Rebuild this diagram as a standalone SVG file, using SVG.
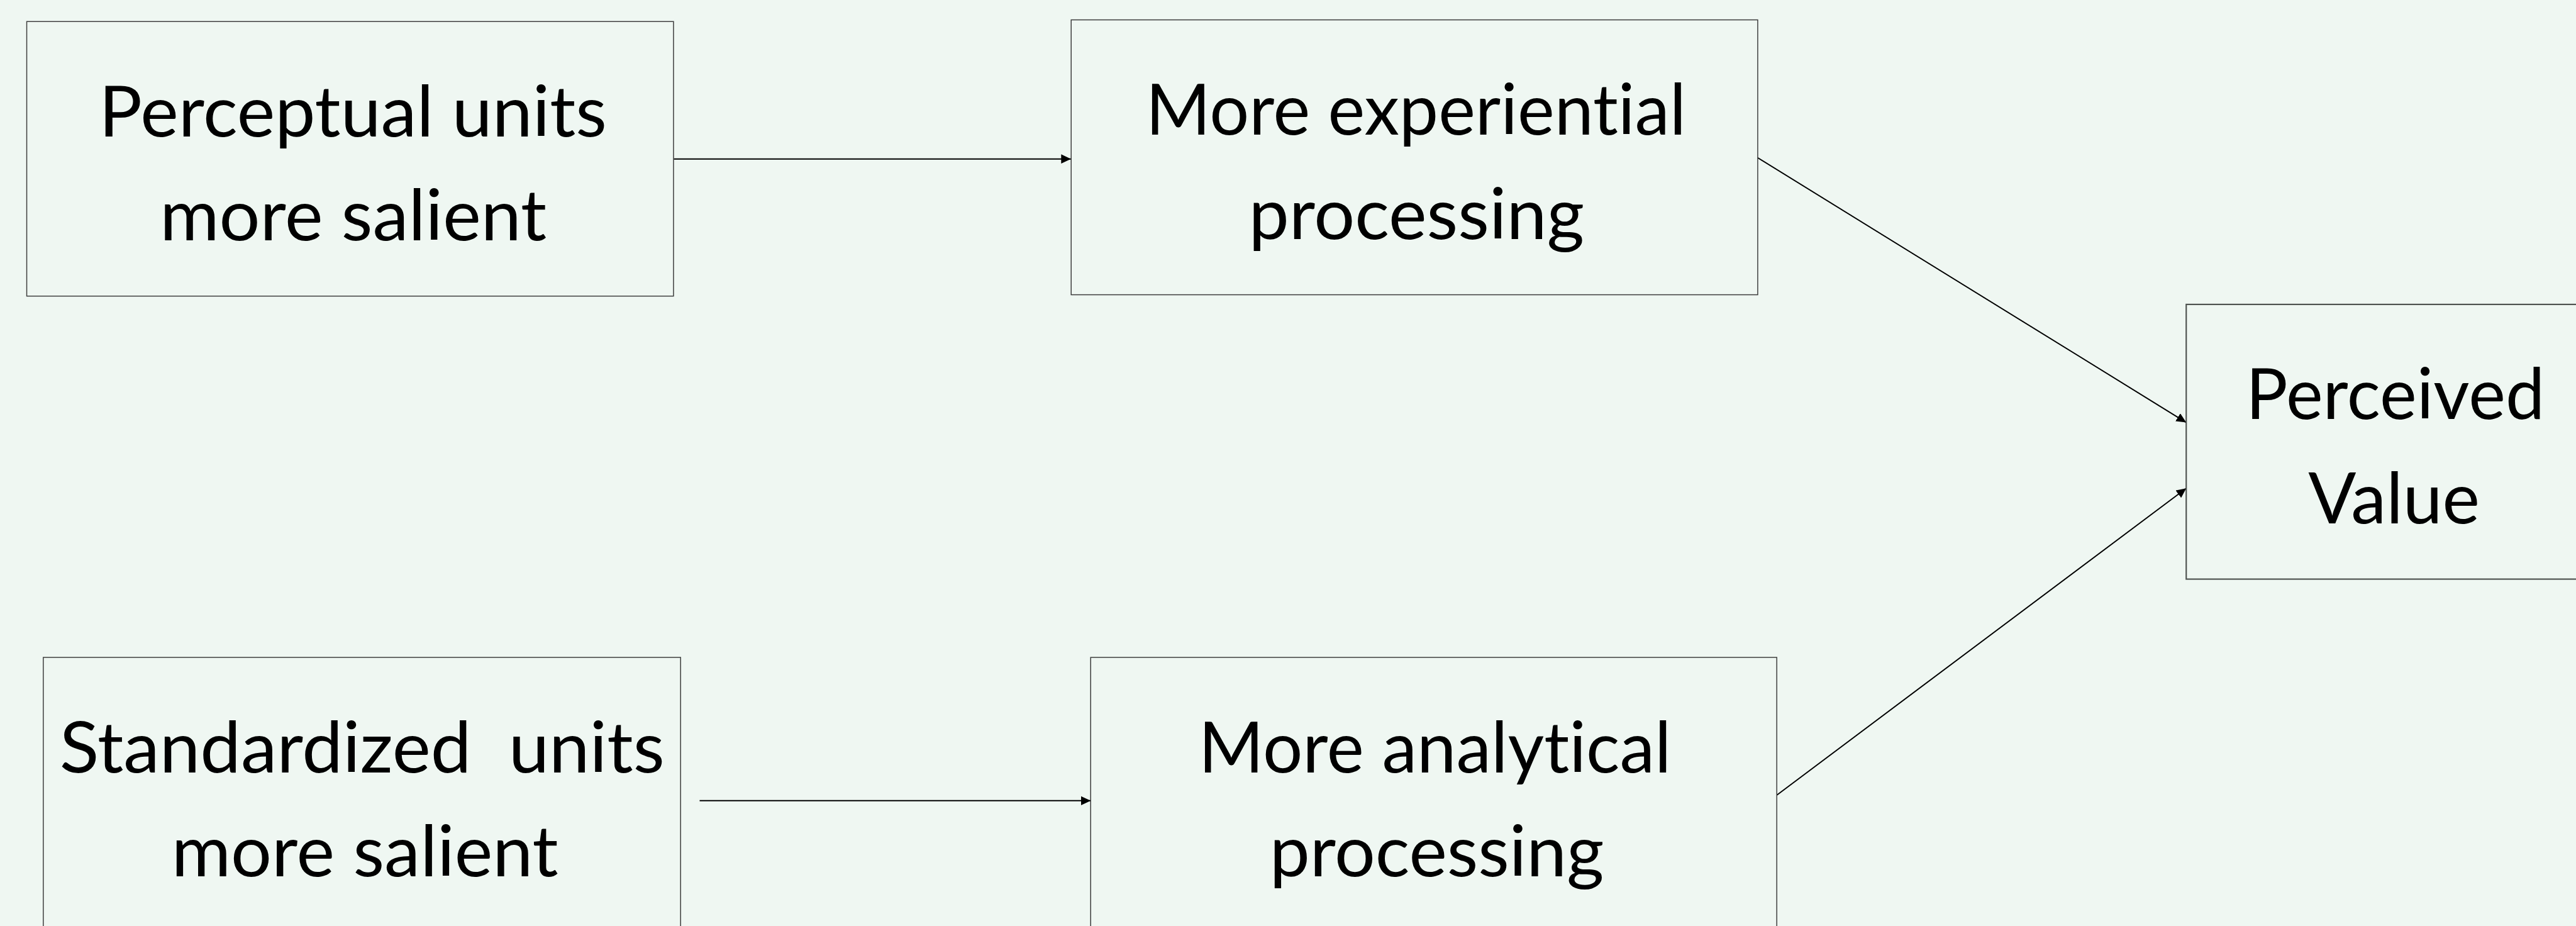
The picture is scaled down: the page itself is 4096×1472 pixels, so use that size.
<svg xmlns="http://www.w3.org/2000/svg" width="4096" height="1472" viewBox="0 0 4096 1472">
  <style>
    .bg { fill: #EFF7F2; }
    .box { fill: #EFF7F2; stroke: #3a3a3a; stroke-width: 1.5; }
    .box2 { fill: #EFF7F2; stroke: #4d524f; stroke-width: 2.2; }
    .lbl { font-family: "Lato", "Open Sans", "Liberation Sans", sans-serif; font-size: 116px; fill: #000; text-anchor: middle; font-variant-ligatures: none; font-feature-settings: "liga" 0, "clig" 0; }
    .conn { stroke: #000; stroke-width: 2; fill: none; marker-end: url(#arrow); }
  </style>
  <defs>
    <marker id="arrow" markerUnits="userSpaceOnUse" markerWidth="16" markerHeight="15" refX="16" refY="7.5" orient="auto">
      <path d="M0,0 L16,7.5 L0,15 Z" fill="#000"/>
    </marker>
  </defs>
  <rect class="bg" x="0" y="0" width="4096" height="1472"/>
  <g transform="scale(0.97757)">
    <g id="connectors">
      <line class="conn" x1="1096" y1="258.5" x2="1742" y2="258.5"/>
      <line class="conn" x1="1138" y1="1302" x2="1774" y2="1302"/>
      <line class="conn" x1="2859" y1="256.5" x2="3556" y2="687"/>
      <line class="conn" x1="2890" y1="1293" x2="3556" y2="794"/>
    </g>
    <g id="node-perceptual">
      <rect class="box" x="43.5" y="35" width="1052" height="446.5"/>
      <text class="lbl" x="574" y="221.7" textLength="826" lengthAdjust="spacingAndGlyphs">Perceptual units</text>
      <text class="lbl" x="574.5" y="390.7" textLength="629" lengthAdjust="spacingAndGlyphs">more salient</text>
    </g>
    <g id="node-experiential">
      <rect class="box" x="1742.3" y="32.3" width="1116.7" height="447"/>
      <text class="lbl" x="2303" y="219" textLength="879" lengthAdjust="spacingAndGlyphs">More experiential</text>
      <text class="lbl" x="2304" y="388.3" textLength="546" lengthAdjust="spacingAndGlyphs">processing</text>
    </g>
    <g id="node-value">
      <rect class="box2" x="3556" y="495" width="678" height="446.7"/>
      <text class="lbl" x="3896" y="681.7" textLength="486" lengthAdjust="spacingAndGlyphs">Perceived</text>
      <text class="lbl" x="3894" y="850.7" textLength="279" lengthAdjust="spacingAndGlyphs">Value</text>
    </g>
    <g id="node-standardized">
      <rect class="box" x="70.4" y="1069" width="1036.6" height="446.5"/>
      <text class="lbl" x="589" y="1255.7" textLength="984" lengthAdjust="spacingAndGlyphs" xml:space="preserve">Standardized  units</text>
      <text class="lbl" x="593.5" y="1425" textLength="629" lengthAdjust="spacingAndGlyphs">more salient</text>
    </g>
    <g id="node-analytical">
      <rect class="box" x="1774" y="1069" width="1116" height="446.5"/>
      <text class="lbl" x="2334" y="1255.7" textLength="769" lengthAdjust="spacingAndGlyphs">More analytical</text>
      <text class="lbl" x="2337" y="1425" textLength="544" lengthAdjust="spacingAndGlyphs">processing</text>
    </g>
  </g>
</svg>
